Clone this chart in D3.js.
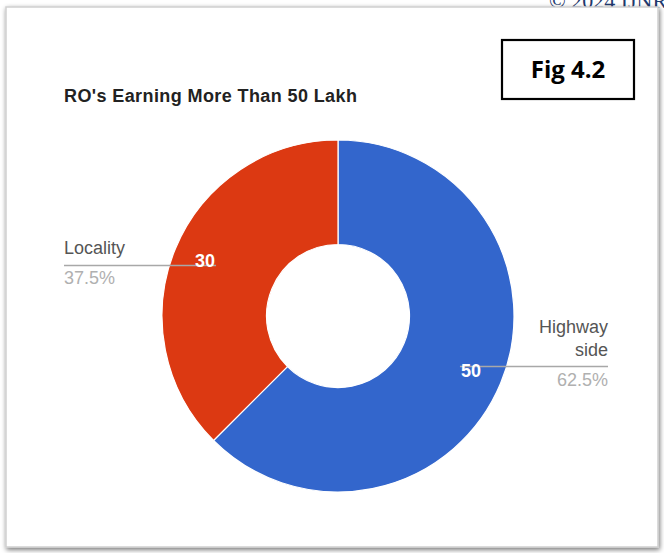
<!DOCTYPE html>
<html>
<head>
<meta charset="utf-8">
<script src="https://cdn.jsdelivr.net/npm/d3@7"></script>
<style>
  html, body { margin: 0; padding: 0; background: #fff; }
  svg { display: block; }
</style>
</head>
<body>
<svg id="chart" width="664" height="553"></svg>
<script>
// Data
const categories = ["Highway side", "Locality"];
const labelLines = [["Highway", "side"], ["Locality"]];
const values = [50, 30];
const colors = ["#3366cc", "#dc3912"];
const title = "RO's Earning More Than 50 Lakh";
const figLabel = "Fig 4.2";

const svg = d3.select("#chart");

// Frame with soft shadow
const defs = svg.append("defs");
const f = defs.append("filter").attr("id", "shadow")
  .attr("x", "-5%").attr("y", "-5%").attr("width", "110%").attr("height", "110%");
f.append("feGaussianBlur").attr("in", "SourceAlpha").attr("stdDeviation", 2.5).attr("result", "b");
f.append("feOffset").attr("in", "b").attr("dx", 1).attr("dy", 2).attr("result", "o");
f.append("feComponentTransfer").attr("in", "o").attr("result", "s")
  .append("feFuncA").attr("type", "linear").attr("slope", 0.55);
const m = f.append("feMerge");
m.append("feMergeNode").attr("in", "s");
m.append("feMergeNode").attr("in", "SourceGraphic");

// copyright line along the top edge
svg.append("text")
  .attr("x", 549).attr("y", 8)
  .attr("font-family", "Liberation Serif, serif")
  .attr("font-size", 22)
  .attr("fill", "#1f3a6e")
  .text("© 2024 IJNRD");

svg.append("rect")
  .attr("x", 6).attr("y", 7).attr("width", 652).attr("height", 540)
  .attr("fill", "#fff")
  .attr("stroke", "#cfcfcf").attr("stroke-width", 1.5)
  .attr("filter", "url(#shadow)");

// Title
svg.append("text")
  .attr("x", 64).attr("y", 102)
  .attr("font-family", "Liberation Sans, Arial, sans-serif")
  .attr("font-weight", "bold")
  .attr("font-size", 18)
  .attr("letter-spacing", 0.4)
  .attr("fill", "#222")
  .text(title);

// Figure tag
svg.append("rect")
  .attr("x", 502).attr("y", 40).attr("width", 132).attr("height", 59)
  .attr("fill", "#fff").attr("stroke", "#000").attr("stroke-width", 2.2);
svg.append("text")
  .attr("x", 568).attr("y", 78)
  .attr("text-anchor", "middle")
  .attr("font-family", "Open Sans, Liberation Sans, sans-serif")
  .attr("font-weight", "bold")
  .attr("font-size", 24)
  .attr("fill", "#000")
  .text(figLabel);

// Donut
const cx = 338, cy = 316, R = 176, r0 = 71.5;
const pie = d3.pie().sort(null).value(d => d)(values);
const arc = d3.arc().innerRadius(r0).outerRadius(R);
const g = svg.append("g").attr("transform", `translate(${cx},${cy})`);
g.selectAll("path").data(pie).join("path")
  .attr("d", arc)
  .attr("fill", (d, i) => colors[i])
  .attr("stroke", "#fff").attr("stroke-width", 1.2);

const total = d3.sum(values);
const pct = d3.format(".1%");
const font = "Liberation Sans, Arial, sans-serif";

pie.forEach((d, i) => {
  const a = (d.startAngle + d.endAngle) / 2;
  const sx = Math.sin(a), sy = -Math.cos(a);
  // leader line anchor on the slice
  const lx = cx + sx * 132, ly = cy + sy * 132;
  const right = sx > 0;
  const textX = right ? 608 : 64;
  svg.append("line")
    .attr("x1", textX).attr("x2", lx)
    .attr("y1", ly).attr("y2", ly)
    .attr("stroke", "#a8a8a8").attr("stroke-width", 1.5);

  // category name above the line, percentage below
  const lines = labelLines[i];
  lines.forEach((t, k) => {
    svg.append("text")
      .attr("x", textX)
      .attr("y", ly - 11 - (lines.length - 1 - k) * 23)
      .attr("text-anchor", right ? "end" : "start")
      .attr("font-family", font).attr("font-size", 18)
      .attr("fill", "#555")
      .text(t);
  });
  svg.append("text")
    .attr("x", textX).attr("y", ly + 19)
    .attr("text-anchor", right ? "end" : "start")
    .attr("font-family", font).attr("font-size", 18)
    .attr("fill", "#b0b0b0")
    .text(pct(values[i] / total));

  // value inside slice
  const vx = cx + sx * 144, vy = cy + sy * 144;
  svg.append("text")
    .attr("x", vx).attr("y", vy + 6)
    .attr("text-anchor", "middle")
    .attr("font-family", font).attr("font-weight", "bold").attr("font-size", 18)
    .attr("fill", "#fff")
    .text(values[i]);
});
</script>
</body>
</html>
